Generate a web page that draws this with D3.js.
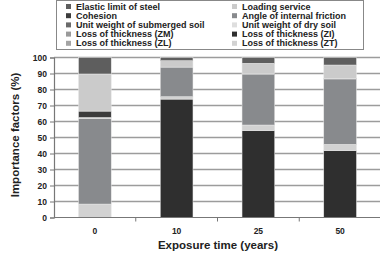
<!DOCTYPE html>
<html lang="en">
<head>
<meta charset="utf-8">
<title>Importance factors vs exposure time</title>
<script src="https://d3js.org/d3.v7.min.js"></script>
<style type="text/css">
	body { margin: 0; background: #fff; }
	text { font-family: Arial, "Liberation Sans", sans-serif; font-weight: bold; fill: #222; }
</style>
</head>
<body>
<script type="text/javascript">
// categories (exposure time, years)
var years = ["0", "10", "25", "50"];

// series names, legend order
var seriesNames = [
	"Elastic limit of steel", "Loading service",
	"Cohesion", "Angle of internal friction",
	"Unit weight of submerged soil", "Unit weight of dry soil",
	"Loss of thickness (ZM)", "Loss of thickness (ZI)",
	"Loss of thickness (ZL)", "Loss of thickness (ZT)"
];
var seriesColors = ["#5e5e5e", "#cbcbcb", "#3c3c3c", "#888a8d", "#6a6a6a",
	"#dedede", "#9a9a9a", "#2f2f2f", "#a4a4a4", "#d2d2d2"];

// values per series (%), for years 0, 10, 25, 50
var elasticLimit   = [10.3, 2.0, 3.6, 4.7];
var loadingService = [23.2, 4.0, 6.4, 8.3];
var cohesion       = [4.0, 0.0, 0.4, 0.4];
var angleFriction  = [53.6, 18.5, 31.8, 40.9];
var unitSubmerged  = [0, 0, 0, 0];
var unitDry        = [0.5, 0.0, 0.0, 0.0];
var lossZM         = [0, 0, 0, 0];
var lossZI         = [0.0, 74.0, 54.3, 41.8];
var lossZL         = [0, 0, 0, 0];
var lossZT         = [8.4, 1.5, 3.5, 3.9];

var yTicks = [0, 10, 20, 30, 40, 50, 60, 70, 80, 90, 100];

var valuesBySeries = [elasticLimit, loadingService, cohesion, angleFriction, unitSubmerged,
	unitDry, lossZM, lossZI, lossZL, lossZT];

// stacking order, bottom to top
var stackOrder = ["Loss of thickness (ZI)", "Loss of thickness (ZT)", "Angle of internal friction",
	"Unit weight of dry soil", "Cohesion", "Loss of thickness (ZM)", "Loss of thickness (ZL)",
	"Unit weight of submerged soil", "Loading service", "Elastic limit of steel"];

var table = years.map(function(y, i) {
	var row = { year: y };
	seriesNames.forEach(function(n, j) { row[n] = valuesBySeries[j][i]; });
	return row;
});

var w = 380, h = 255;
var plotL = 54, plotR = 381, plotT = 57.5, plotB = 217.5;

var svg = d3.select("body").append("svg").attr("width", w).attr("height", h);

var x = d3.scaleBand().domain(years).range([plotL, plotR]).paddingInner(0.6).paddingOuter(0.3);
var xb = d3.scaleBand().domain(years).range([plotL, plotR]);
var y = d3.scaleLinear().domain([0, 100]).range([plotB, plotT]);
var color = d3.scaleOrdinal().domain(seriesNames).range(seriesColors);

// gridlines
svg.append("g").selectAll("line").data(yTicks.slice(1)).enter().append("line")
	.attr("x1", plotL).attr("x2", w)
	.attr("y1", function(d) { return y(d); }).attr("y2", function(d) { return y(d); })
	.attr("stroke", "#9c9c9c").attr("stroke-width", 1.4);

// bars
var stacked = d3.stack().keys(stackOrder)(table);
svg.append("g").selectAll("g").data(stacked).enter().append("g")
	.attr("fill", function(d) { return color(d.key); })
	.selectAll("rect").data(function(d) { return d; }).enter().append("rect")
	.attr("x", function(d) { return x(d.data.year); })
	.attr("width", x.bandwidth())
	.attr("y", function(d) { return y(d[1]); })
	.attr("height", function(d) { return y(d[0]) - y(d[1]); })
	.attr("stroke", "#e8e8e8").attr("stroke-width", function(d) { return d[1] > d[0] ? 0.5 : 0; });

// y axis
var yAxis = svg.append("g").attr("transform", "translate(" + plotL + ",0)")
	.call(d3.axisLeft(y).tickValues(yTicks).tickSize(4).tickPadding(3));
yAxis.select(".domain").attr("stroke", "#777").attr("stroke-width", 1.2);
yAxis.selectAll(".tick line").attr("stroke", "#777");
yAxis.selectAll("text").style("font-size", "8.5px").style("font-weight", "bold").attr("fill", "#222");

// x axis
var xAxis = svg.append("g").attr("transform", "translate(0," + plotB + ")")
	.call(d3.axisBottom(x).tickSize(0).tickPadding(10));
xAxis.select(".domain").attr("stroke", "#777").attr("stroke-width", 1.2).attr("d", "M" + plotL + ",0H" + w);
xAxis.selectAll("text").style("font-size", "8.5px").style("font-weight", "bold").attr("fill", "#222");
svg.append("g").selectAll("line").data(years.slice(1)).enter().append("line")
	.attr("x1", function(d) { return xb(d); }).attr("x2", function(d) { return xb(d); })
	.attr("y1", plotB).attr("y2", plotB + 4).attr("stroke", "#777");

// axis titles
svg.append("text").attr("x", 218).attr("y", 249).attr("text-anchor", "middle")
	.style("font-size", "11.5px").text("Exposure time (years)");
svg.append("text").attr("transform", "translate(19,135) rotate(-90)").attr("text-anchor", "middle")
	.style("font-size", "11.5px").text("Importance factors (%)");

// legend
var legend = svg.append("g");
legend.append("rect").attr("x", 56.5).attr("y", 0.5).attr("width", 307).attr("height", 49)
	.attr("fill", "#fff").attr("stroke", "#888").attr("stroke-width", 1);
var items = legend.selectAll("g.item").data(seriesNames).enter().append("g")
	.attr("transform", function(d, i) {
		return "translate(" + (i % 2 === 0 ? 66 : 232) + "," + (9.5 + Math.floor(i / 2) * 9.2) + ")";
	});
items.append("rect").attr("x", 0).attr("y", -5.5).attr("width", 5).attr("height", 5)
	.attr("fill", function(d) { return color(d); });
items.append("text").attr("x", 10).attr("y", 0).style("font-size", "9px").text(function(d) { return d; });
</script>
</body>
</html>
